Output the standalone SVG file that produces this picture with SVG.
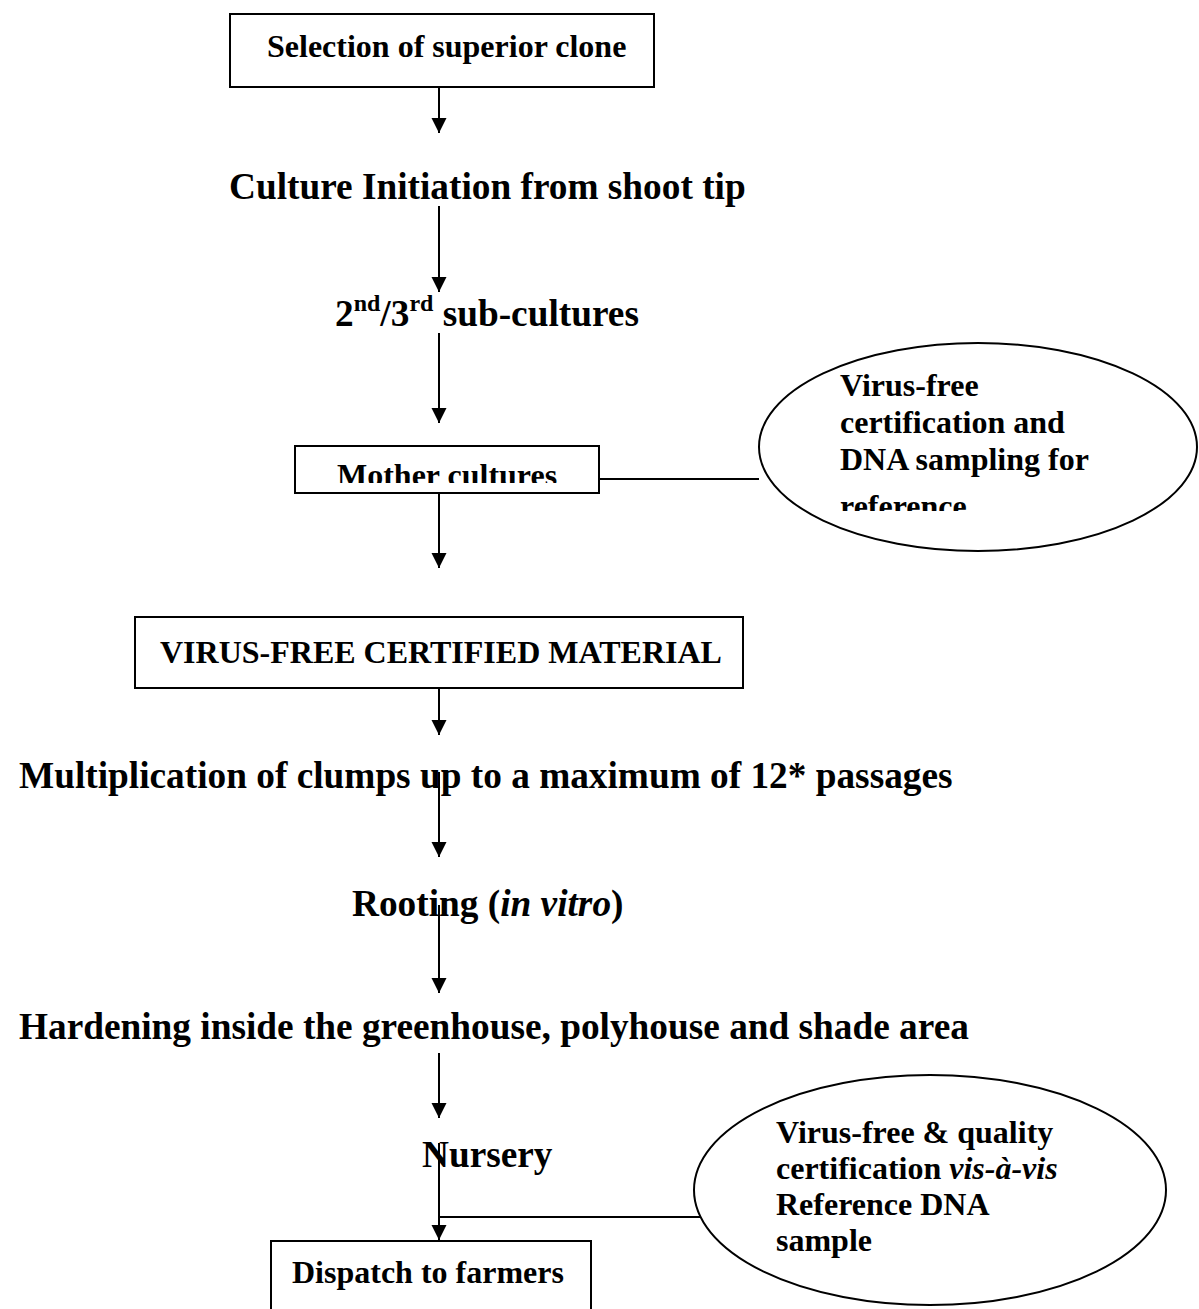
<svg xmlns="http://www.w3.org/2000/svg" width="1199" height="1309" viewBox="0 0 1199 1309">
<style>
  .bg { fill: #ffffff; }
  .box { fill: #ffffff; stroke: #000000; stroke-width: 2; }
  .oval { fill: #ffffff; stroke: #000000; stroke-width: 2; }
  .big { font-family: "Liberation Serif", "Times New Roman", serif; font-weight: bold; font-size: 37.3px; fill: #000000; }
  .mid { font-family: "Liberation Serif", "Times New Roman", serif; font-weight: bold; font-size: 32px; fill: #000000; }
  .sup { font-size: 24px; }
  .it { font-style: italic; }
  .conn { stroke: #000000; stroke-width: 2; fill: none; }
</style>
<defs>
  <marker id="arrow" markerUnits="userSpaceOnUse" markerWidth="16" markerHeight="16" refX="15" refY="7.5" orient="auto">
    <path d="M0,0 L15,7.5 L0,15 Z" fill="#000000"/>
  </marker>
  <clipPath id="clipMother"><rect x="295" y="446" width="304" height="37"/></clipPath>
  <clipPath id="clipOval1"><rect x="758" y="340" width="441" height="171"/></clipPath>
</defs>
<rect class="bg" x="0" y="0" width="1199" height="1309"/>

<g id="connectors">
  <line class="conn" x1="439" y1="87" x2="439" y2="133" marker-end="url(#arrow)"/>
  <line class="conn" x1="439" y1="206" x2="439" y2="292" marker-end="url(#arrow)"/>
  <line class="conn" x1="439" y1="333" x2="439" y2="423" marker-end="url(#arrow)"/>
  <line class="conn" x1="599" y1="479" x2="759" y2="479"/>
  <line class="conn" x1="439" y1="493" x2="439" y2="568" marker-end="url(#arrow)"/>
  <line class="conn" x1="439" y1="688" x2="439" y2="735" marker-end="url(#arrow)"/>
  <line class="conn" x1="439" y1="772" x2="439" y2="857" marker-end="url(#arrow)"/>
  <line class="conn" x1="439" y1="905" x2="439" y2="993" marker-end="url(#arrow)"/>
  <line class="conn" x1="439" y1="1053" x2="439" y2="1118" marker-end="url(#arrow)"/>
  <line class="conn" x1="439" y1="1143" x2="439" y2="1240" marker-end="url(#arrow)"/>
  <line class="conn" x1="439" y1="1217" x2="730" y2="1217"/>
</g>

<g id="node-selection">
  <rect class="box" x="230" y="14" width="424" height="73"/>
  <text class="mid" x="267" y="57">Selection of superior clone</text>
</g>

<g id="node-culture-initiation">
  <text class="big" x="229" y="199">Culture Initiation from shoot tip</text>
</g>

<g id="node-subcultures">
  <text class="big" x="335" y="326">2<tspan class="sup" dy="-15">nd</tspan><tspan dy="15">/3</tspan><tspan class="sup" dy="-15">rd</tspan><tspan dy="15"> sub-cultures</tspan></text>
</g>

<g id="node-mother">
  <rect class="box" x="295" y="446" width="304" height="47"/>
  <text class="mid" x="337" y="486" clip-path="url(#clipMother)">Mother cultures</text>
</g>

<g id="node-oval-certification">
  <ellipse class="oval" cx="978" cy="447" rx="219" ry="104"/>
  <g clip-path="url(#clipOval1)">
    <text class="mid" x="840" y="396">Virus-free</text>
    <text class="mid" x="840" y="433">certification and</text>
    <text class="mid" x="840" y="470">DNA sampling for</text>
    <text class="mid" x="840" y="517">reference</text>
  </g>
</g>

<g id="node-virus-free-material">
  <rect class="box" x="135" y="617" width="608" height="71"/>
  <text class="mid" x="160" y="663">VIRUS-FREE CERTIFIED MATERIAL</text>
</g>

<g id="node-multiplication">
  <text class="big" x="19" y="788">Multiplication of clumps up to a maximum of 12* passages</text>
</g>

<g id="node-rooting">
  <text class="big" x="352" y="916">Rooting (<tspan class="it">in vitro</tspan>)</text>
</g>

<g id="node-hardening">
  <text class="big" x="19" y="1039">Hardening inside the greenhouse, polyhouse and shade area</text>
</g>

<g id="node-nursery">
  <text class="big" x="422" y="1167">Nursery</text>
</g>

<g id="node-oval-quality">
  <ellipse class="oval" cx="930" cy="1190" rx="236" ry="115"/>
  <text class="mid" x="776" y="1143">Virus-free &amp; quality</text>
  <text class="mid" x="776" y="1179">certification <tspan class="it">vis-à-vis</tspan></text>
  <text class="mid" x="776" y="1215">Reference DNA</text>
  <text class="mid" x="776" y="1251">sample</text>
</g>

<g id="node-dispatch">
  <rect class="box" x="271" y="1241" width="320" height="90"/>
  <text class="mid" x="292" y="1283">Dispatch to farmers</text>
</g>
</svg>
